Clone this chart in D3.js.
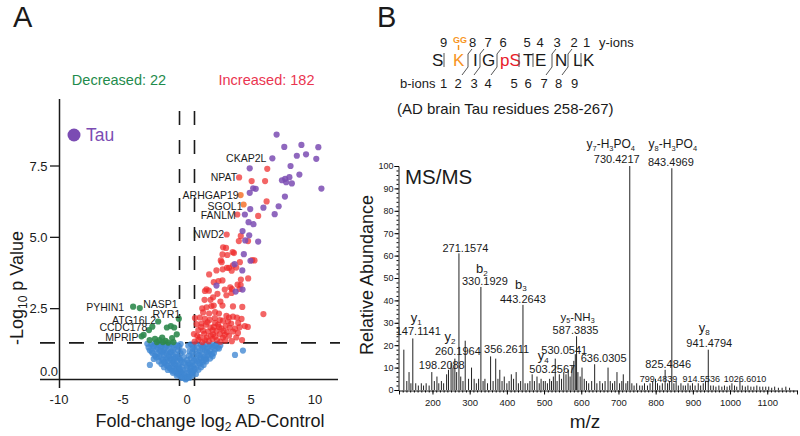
<!DOCTYPE html>
<html><head><meta charset="utf-8">
<script src="https://cdn.jsdelivr.net/npm/d3@7"></script>
<style>body{margin:0;background:#fff}svg{font-family:"Liberation Sans",Arial,sans-serif;display:block}</style>
</head><body><svg id="c" width="800" height="436"></svg>
<script>
// ================= DATA: Panel A (volcano) =================
const volcanoXTicks = [-10, -5, 0, 5, 10];
const volcanoYTicks = [2.5, 5.0, 7.5];
const decreasedCount = 22;
const increasedCount = 182;
const foldThreshold = 0.585;   // log2(1.5)
const pThreshold = 1.3;        // -log10(0.05)

const bluePoints = [
[-3.1,1.27],[-2.8,1.24],[-2.5,1.28],[-2.2,1.22],[-1.9,1.26],[-1.6,1.21],[-1.2,1.27],[-0.9,1.23],[-0.5,1.26],[0.3,1.25],[0.7,1.28],[1.1,1.22],[1.5,1.26],[1.9,1.24],[2.3,1.27],[2.6,1.21],
[-3.0,1.14],[-2.6,1.17],[-2.3,1.12],[-2.0,1.16],[-1.7,1.13],[-1.4,1.18],[-1.0,1.11],[-0.6,1.15],[0.5,1.17],[0.9,1.12],[1.3,1.16],[1.6,1.1],[2.0,1.15],[2.4,1.13],
[-2.9,1.04],[-2.4,1.07],[-2.1,1.02],[-1.8,1.06],[-1.5,1.01],[-1.1,1.05],[-0.7,1.03],[0.6,1.06],[1.0,1.01],[1.4,1.05],[1.8,1.02],[2.2,1.07],[4.37,1.03],
[-2.7,0.95],[-2.3,0.92],[-1.9,0.97],[-1.6,0.93],[-1.3,0.96],[-0.9,0.91],[-0.5,0.94],[0.4,0.96],[0.8,0.92],[1.2,0.97],[1.7,0.93],[2.1,0.95],
[-2.5,0.85],[-2.2,0.82],[-1.8,0.87],[-1.4,0.83],[-1.1,0.86],[-0.7,0.81],[0.5,0.84],[0.9,0.87],[1.3,0.82],[1.6,0.86],[2.0,0.83],[3.75,0.88],
[-2.6,0.74],[-2.0,0.77],[-1.6,0.72],[-1.3,0.76],[-1.0,0.73],[-0.6,0.75],[0.3,0.77],[0.7,0.72],[1.1,0.76],[1.5,0.73],[1.8,0.75],
[-2.2,0.65],[-1.8,0.62],[-1.5,0.66],[-1.1,0.63],[-0.8,0.67],[-0.4,0.64],[0.4,0.62],[0.8,0.66],[1.2,0.63],[1.5,0.65],
[-2.9,0.53],[-2.0,0.56],[-1.6,0.52],[-1.2,0.57],[-0.9,0.54],[-0.6,0.51],[0.2,0.55],[0.6,0.52],[1.0,0.56],[1.3,0.53],
[-1.8,0.45],[-1.4,0.43],[-1.1,0.47],[-0.8,0.42],[-0.4,0.46],[0.3,0.44],[0.7,0.41],[1.1,0.45],
[-1.5,0.35],[-1.2,0.33],[-0.9,0.37],[-0.6,0.32],[-0.3,0.36],[0.2,0.34],[0.5,0.31],[0.9,0.36],
[-1.1,0.25],[-0.8,0.23],[-0.5,0.27],[-0.2,0.22],[0.1,0.26],[0.4,0.24],[0.7,0.21],
[-0.8,0.15],[-0.5,0.13],[-0.2,0.16],[0.1,0.12],[0.4,0.15],
[-0.4,0.07],[-0.1,0.05],[0.2,0.08],[-0.1,0.02],
[-2.65,1.2],[-2.05,1.19],[-1.35,1.24],[-0.75,1.2],[0.1,1.2],[0.45,1.1],[1.2,1.19],[1.75,1.2],[2.15,1.2],[2.5,1.1],
[-2.75,1.0],[-2.0,0.99],[-1.25,0.99],[-0.3,1.0],[0.2,1.0],[1.55,0.99],[1.95,0.9],[-2.4,0.8],[-1.55,0.79],[-0.9,0.8],
[-0.25,0.8],[0.15,0.85],[1.05,0.79],[1.4,0.78],[-1.9,0.7],[-1.2,0.69],[-0.5,0.7],[0.0,0.7],[0.55,0.69],[1.35,0.7],
[-1.75,0.6],[-1.0,0.59],[-0.2,0.6],[0.1,0.6],[0.95,0.6],[-1.5,0.5],[-0.7,0.48],[0.0,0.5],[0.45,0.49],[-1.3,0.4],
[-0.6,0.39],[0.0,0.4],[0.55,0.38],[-1.0,0.3],[-0.4,0.28],[0.35,0.29],[-0.65,0.19],[0.25,0.19],[-0.3,0.1],[0.05,0.09]
];

const greenPoints = [
[-4.21,2.57],[-3.69,2.52],[-2.25,2.05],[-0.64,2.15],[-2.71,1.87],[-2.97,1.75],[-1.57,1.84],[-1.26,1.89],[-1.0,1.84],[-3.39,1.58],[-3.55,1.53],
[-2.92,1.4],[-2.5,1.44],[-2.15,1.4],[-1.94,1.49],[-1.68,1.37],[-1.47,1.31],[-1.16,1.47],[-1.06,1.33],[-2.35,1.33],[-1.88,1.33],[-0.8,1.6]
];

const redPoints = [
[6.27,7.4],[4.07,7.1],[5.05,6.97],[6.1,6.97],[6.22,6.26],[3.93,5.8],[5.56,5.75],[3.1,5.1],[4.2,5.05],[4.77,4.87],[4.05,4.87],
[2.82,4.65],[3.05,4.63],[3.57,4.48],[3.67,4.45],[3.15,4.38],[2.77,4.4],[4.13,4.13],[5.27,4.19],[5.09,4.2],[2.71,4.13],[2.64,4.19],
[3.59,4.02],[3.12,3.93],[3.28,3.93],[3.85,3.94],[2.79,3.88],[2.3,3.84],[3.49,3.83],[1.73,3.7],[4.21,3.52],[4.78,3.56],[2.77,3.49],
[2.46,3.47],[2.09,3.43],[3.95,3.34],[4.19,3.33],[1.52,3.18],[1.71,3.13],[1.4,3.12],[2.95,3.17],[3.38,3.25],[3.51,3.19],[4.11,3.19],
[2.38,3.02],[3.08,2.97],[3.48,3.05],[1.37,2.81],[1.84,2.81],[2.04,2.9],[2.61,2.75],[2.77,2.61],[1.19,2.51],[1.53,2.55],[1.91,2.59],
[2.09,2.61],[3.59,2.58],[4.32,2.56],[5.97,2.31],[1.26,2.37],[1.73,2.33],[2.19,2.38],[2.5,2.33],[3.08,2.25],[3.28,2.19],[3.59,2.22],
[3.9,2.19],[4.26,2.14],[4.52,1.89],[0.62,2.17],[1.0,2.19],[1.4,2.14],[1.78,2.11],[2.17,2.17],[2.56,2.1],[2.81,2.08],
[0.75,1.96],[1.14,1.98],[1.47,1.94],[1.84,1.84],[2.09,1.86],[2.43,1.94],[2.69,1.8],[3.02,1.9],[3.33,1.84],[3.59,1.7],[3.98,1.65],
[3.12,1.68],[2.56,1.61],[2.04,1.6],[1.65,1.7],[1.26,1.73],[0.88,1.75],[0.54,1.61],[1.0,1.5],[1.53,1.49],[1.99,1.44],[2.35,1.4],
[2.81,1.49],[3.28,1.55],[3.85,1.49],[4.11,1.85],[4.75,1.86],[0.6,1.35],[0.9,1.42],[1.2,1.33],[1.7,1.36],[2.2,1.52],[2.6,1.34],
[3.0,1.38],[3.5,1.36],[4.3,1.4],[1.35,1.62],[1.85,1.55],[2.3,1.72],[2.85,1.72],[3.45,1.98],[2.2,2.0],[1.6,2.02],[0.8,1.55],
[1.1,1.85],[2.0,1.75],[2.5,1.85],[3.2,2.05],[2.95,1.58],[1.4,1.4],[3.75,1.8],[4.0,2.0]
];

const purplePoints = [
[7.0,8.6],[7.6,8.17],[8.94,8.24],[10.26,8.16],[8.58,7.86],[9.3,7.91],[10.1,7.75],[6.67,7.77],[8.09,7.5],[4.9,7.42],
[8.78,7.2],[8.0,7.11],[7.42,7.0],[7.67,7.05],[7.75,6.93],[8.19,6.89],[10.5,6.71],[5.17,6.72],[5.37,6.7],[4.9,6.56],
[7.65,6.43],[7.16,6.09],[5.97,6.04],[4.94,5.99],[6.85,5.81],[4.52,5.8],[4.81,5.53],[5.19,5.46],[4.34,5.22],[4.86,5.07],
[4.55,4.89],[5.56,4.85],[4.44,4.41],[4.96,4.18],[3.72,4.06],[4.32,3.84],[2.3,3.31],[3.8,3.1],[4.34,3.17]
];

const orangePoints = [[4.19,6.48],[4.42,6.15]];

const geneNames  = ["CKAP2L","NPAT","ARHGAP19","SGOL1","FANLM","NWD2","PYHIN1","NASP1","RYR1","ATG16L2","CCDC178","MPRIP"];
const geneFC     = [6.67, 4.07, 4.19, 4.42, 3.93, 3.1, -4.21, -3.69, -0.64, -2.25, -2.71, -3.55];
const genePval   = [7.77, 7.1, 6.48, 6.15, 5.8, 5.1, 2.57, 2.52, 2.15, 2.05, 1.87, 1.53];

// ================= DATA: Panel B (MS/MS spectrum) =================
const msXTicks = [200,300,400,500,600,700,800,900,1000,1100];
const msYTicks = [0,10,20,30,40,50,60,70,80,90,100];
const peakMz = [
123,131,137,142,147.11,155,162,170,176,183,191,198.21,205,212,217,224,230,238,243,250,255,260.2,265,271.16,276,282,288,297,305,312,318,324,
330.19,336,341,348,356.26,363,370,376,381,387,393,400,406,412,418,425,431,437,443.26,449,456,462,468,474,481,487,492,498,503.26,509,515,
520,525,530.05,535,541,547,553,559,565,570,575,580,584,587.38,591,597,602,608,614,620,628,636.03,642,650,657,664,672,678,684,690,696,
703,709,713,720,725,730.42,736,742,749,757,764,770,778,785,792,799.48,805,811,818,825.48,832,837,843.5,849,855,861,868,874,880,887,
893,899,906,914.55,921,928,934,941.48,948,955,962,970,978,985,992,999,1005,1012,1018,1026.6,1033,1041,1048,1056,1064,1072,1080,1088,
1096,1104,1112,1120,1130,1140,1150,1160];
const peakIntensity = [
18,4,8,3,23,3,2,3,2,3,2,8,4,6,3,4,3,7,9,12,10,14,8,61,6,4,22,5,10,5,3,5,
46,4,5,3,15,4,14,5,9,4,6,3,4,7,5,8,3,4,38,3,3,4,7,4,6,3,5,4,4,3,5,
4,6,14,4,7,5,8,7,9,6,11,13,16,24,8,6,10,5,4,3,4,11.5,3,4,3,4,10,4,3,4,8,
3,4,7,3,4,100,3,2,3,2,2,3,2,3,4,5,3,2,3,9,3,4,99,3,4,2,3,2,2,3,
2,3,2,3,2,3,4,18,2,2,1.5,2,1.5,2,1.5,2,3,2,1.5,4,2,1.5,2,1.5,1.5,2,1.5,1.5,
1.5,1.5,1,1.5,1,1,1.5,1];

const msLabelText = ["730.4217","843.4969","271.1574","330.1929","443.2643","147.1141","260.1964","198.2088","356.2611",
  "587.3835","530.0541","503.2567","636.0305","825.4846","799.4839","914.5536","1026.6010","941.4794"];
const msIonNames = [
  {ion:[["y",0],["7",1],["-H",0],["3",1],["PO",0],["4",1]], of:"730.4217"},
  {ion:[["y",0],["8",1],["-H",0],["3",1],["PO",0],["4",1]], of:"843.4969"},
  {ion:[["b",0],["2",1]], of:"330.1929"},
  {ion:[["b",0],["3",1]], of:"443.2643"},
  {ion:[["y",0],["1",1]], of:"147.1141"},
  {ion:[["y",0],["2",1]], of:"260.1964"},
  {ion:[["y",0],["5",1],["-NH",0],["3",1]], of:"587.3835"},
  {ion:[["y",0],["4",1]], of:"503.2567"},
  {ion:[["y",0],["8",1]], of:"941.4794"}
];

// Peptide diagram content
const peptideResidues = ["S","K","I","G","pS","T","E","N","L","K"];
const yIonNumbers = ["9","8","7","6","5","4","3","2","1"];
const bIonNumbers = ["1","2","3","4","5","6","7","8","9"];

// ================= LAYOUT (pixel placement only) =================
const svg = d3.select("#c");
const INK = "#1a1a1a";

// ---------- Panel A ----------
const xA = d3.scaleLinear().domain([-10, 10]).range([59, 315]);
const yA = d3.scaleLinear().domain([0, 7.5]).range([380, 166]);
const gA = svg.append("g");

svg.append("text").attr("x", 13).attr("y", 27).attr("font-size", 29).attr("fill", INK).text("A");
svg.append("text").attr("x", 377).attr("y", 27).attr("font-size", 29).attr("fill", INK).text("B");

gA.append("line").attr("x1", 59.5).attr("x2", 59.5).attr("y1", 99).attr("y2", 388).attr("stroke", INK).attr("stroke-width", 1.5);
gA.append("line").attr("x1", 40).attr("x2", 338).attr("y1", 379.5).attr("y2", 379.5).attr("stroke", INK).attr("stroke-width", 1.5);

volcanoYTicks.forEach(v => {
  gA.append("line").attr("x1", 50).attr("x2", 59.5).attr("y1", yA(v)).attr("y2", yA(v)).attr("stroke", INK).attr("stroke-width", 1.3);
  gA.append("text").attr("x", 47.5).attr("y", yA(v)).attr("dy", "0.35em").attr("text-anchor", "end")
    .attr("font-size", 13).attr("fill", INK).text(d3.format(".1f")(v));
});
gA.append("text").attr("x", 58).attr("y", yA(0) - 9).attr("dy", "0.35em").attr("text-anchor", "end")
  .attr("font-size", 13).attr("fill", INK).text(d3.format(".1f")(0));

volcanoXTicks.forEach(v => {
  gA.append("text").attr("x", xA(v)).attr("y", 404).attr("text-anchor", "middle")
    .attr("font-size", 13).attr("fill", INK).text(String(v));
});

const xt = gA.append("text").attr("x", 210).attr("y", 427).attr("text-anchor", "middle").attr("font-size", 18).attr("fill", INK);
xt.append("tspan").text("Fold-change log");
xt.append("tspan").attr("font-size", 12).attr("dy", 4).text("2");
xt.append("tspan").attr("dy", -4).text(" AD-Control");

const yt = gA.append("text").attr("transform", "translate(23,288) rotate(-90)").attr("text-anchor", "middle").attr("font-size", 18).attr("fill", INK);
yt.append("tspan").text("-Log");
yt.append("tspan").attr("font-size", 12).attr("dy", 4).text("10");
yt.append("tspan").attr("dy", -4).text(" p Value");

[-foldThreshold, foldThreshold].forEach(v => {
  gA.append("line").attr("x1", xA(v)).attr("x2", xA(v)).attr("y1", 111).attr("y2", 394)
    .attr("stroke", INK).attr("stroke-width", 1.6).attr("stroke-dasharray", "14,15");
});
gA.append("line").attr("x1", 40).attr("x2", 340).attr("y1", yA(pThreshold)).attr("y2", yA(pThreshold))
  .attr("stroke", INK).attr("stroke-width", 1.6).attr("stroke-dasharray", "15,14");

function dots(data, fill, op) {
  gA.append("g").selectAll("circle").data(data).join("circle")
    .attr("cx", d => xA(d[0])).attr("cy", d => yA(d[1])).attr("r", 3.1)
    .attr("fill", fill).attr("fill-opacity", op);
}
dots(bluePoints, "#3f86d2", 0.78);
dots(greenPoints, "#2f8a4e", 0.9);
dots(redPoints, "#ee2a2a", 0.72);
dots(purplePoints, "#7b4cb3", 0.85);
dots(orangePoints, "#f57b3a", 0.9);

const geneLabelLayout = [["end",-6,3.5],["end",-2,4],["end",-2,4],["end",-1,5],["end",-1.5,4],["end",-2.5,4],
  ["end",-9,4.5],["start",3.5,-0.5],["end",1.5,-1],["end",-2,2.5],["end",-5,4.5],["end",-3,4.5]];
geneNames.forEach((n, i) => {
  const L = geneLabelLayout[i];
  gA.append("text").attr("x", xA(geneFC[i]) + L[1]).attr("y", yA(genePval[i]) + L[2])
    .attr("text-anchor", L[0]).attr("font-size", 10.5).attr("fill", INK).text(n);
});

gA.append("text").attr("x", 119).attr("y", 85).attr("text-anchor", "middle").attr("font-size", 14.5)
  .attr("fill", "#1f8b4c").text("Decreased: " + decreasedCount);
gA.append("text").attr("x", 266.5).attr("y", 85).attr("text-anchor", "middle").attr("font-size", 14.5)
  .attr("fill", "#ea3550").text("Increased: " + increasedCount);

gA.append("circle").attr("cx", 74).attr("cy", 135).attr("r", 6.5).attr("fill", "#7b4cb3");
gA.append("text").attr("x", 86).attr("y", 141).attr("font-size", 17.5).attr("fill", "#7b4cb3").text("Tau");

// ---------- Panel B: peptide diagram ----------
const gP = svg.append("g");
const residueX = [432, 453, 473, 482, 500, 523, 535, 555, 573, 583];
const residueColor = [INK, "#f7941d", INK, INK, "#e8202a", INK, INK, INK, INK, INK];
peptideResidues.forEach((r, i) => {
  gP.append("text").attr("x", residueX[i]).attr("y", 66).attr("font-size", 17).attr("fill", residueColor[i]).text(r);
});
const yNumX = [443.5, 472.5, 488, 503, 527, 540, 557, 574, 586.5];
yIonNumbers.forEach((t, i) => gP.append("text").attr("x", yNumX[i]).attr("y", 47).attr("text-anchor", "middle").attr("font-size", 13).attr("fill", INK).text(t));
const bNumX = [443.5, 458, 474, 488, 514, 528, 544, 558.5, 574.5];
bIonNumbers.forEach((t, i) => gP.append("text").attr("x", bNumX[i]).attr("y", 88).attr("text-anchor", "middle").attr("font-size", 13).attr("fill", INK).text(t));
gP.append("text").attr("x", 599).attr("y", 47).attr("font-size", 13).attr("fill", INK).text("y-ions");
gP.append("text").attr("x", 400).attr("y", 88).attr("font-size", 13).attr("fill", INK).text("b-ions");
gP.append("text").attr("x", 460).attr("y", 43).attr("text-anchor", "middle").attr("font-size", 9).attr("font-weight", "bold").attr("fill", "#f7941d").text("GG");
gP.append("line").attr("x1", 458.5).attr("x2", 458.5).attr("y1", 45).attr("y2", 50).attr("stroke", "#f7941d").attr("stroke-width", 1.5);
const cutX = [444, 468, 480, 497, 519, 533, 552, 568, 581];
const cutHook = [false, true, true, true, false, false, true, true, false];
cutX.forEach((x, i) => {
  const p = cutHook[i] ? `M${x-6},75 L${x},67 L${x},54 L${x+4},49` : `M${x},53 L${x},67`;
  gP.append("path").attr("d", p).attr("fill", "none").attr("stroke", "#555").attr("stroke-width", 1);
});
gP.append("text").attr("x", 397).attr("y", 114).attr("font-size", 15).attr("fill", INK).text("(AD brain Tau residues 258-267)");

// ---------- Panel B: spectrum ----------
const xB = d3.scaleLinear().domain([110, 1180]).range([399, 797]);
const yB = d3.scaleLinear().domain([0, 100]).range([390, 166]);
const gB = svg.append("g");

gB.append("text").attr("x", 405).attr("y", 184).attr("font-size", 20.5).attr("fill", INK).text("MS/MS");

gB.append("g").selectAll("line").data(peakMz.map((m, i) => [m, peakIntensity[i]])).join("line")
  .attr("x1", d => xB(d[0])).attr("x2", d => xB(d[0]))
  .attr("y1", yB(0)).attr("y2", d => yB(d[1]))
  .attr("stroke", "#222").attr("stroke-width", 1);

const xAxisB = d3.axisBottom(xB).tickValues(msXTicks).tickSize(4).tickFormat(d3.format("d"));
const gx = gB.append("g").attr("transform", "translate(0,390.5)").call(xAxisB);
gx.select(".domain").attr("stroke", INK);
gx.selectAll("text").attr("font-size", 9.5).attr("fill", INK).attr("font-family", "Liberation Sans, Arial, sans-serif").attr("dy", "0.9em");
gB.append("g").attr("transform", "translate(0,390.5)")
  .call(d3.axisBottom(xB).ticks(100).tickSize(2).tickFormat(""))
  .select(".domain").remove();

const yAxisB = d3.axisLeft(yB).tickValues(msYTicks).tickSize(4).tickFormat(d3.format("d"));
const gy = gB.append("g").attr("transform", "translate(398.5,0)").call(yAxisB);
gy.select(".domain").attr("stroke", INK);
gy.selectAll("text").attr("font-size", 9).attr("fill", INK).attr("font-family", "Liberation Sans, Arial, sans-serif").attr("x", -5);
gB.append("g").attr("transform", "translate(398.5,0)")
  .call(d3.axisLeft(yB).ticks(50).tickSize(2).tickFormat(""))
  .select(".domain").remove();

gB.append("text").attr("transform", "translate(373,275) rotate(-90)").attr("text-anchor", "middle")
  .attr("font-size", 18).attr("fill", INK).text("Relative Abundance");
gB.append("text").attr("x", 585).attr("y", 428).attr("text-anchor", "middle").attr("font-size", 19).attr("fill", INK).text("m/z");

// peak labels: [dx from peak, dy from peak top, fontSize]
const msLabelLayout = [[-13,-3,11],[-1,-2,11],[6.5,-1.5,11],[4,-1.5,11],[0,-2,11],[5.5,-3,11],[3,-3.5,11],[10,-3,11],[16,-3,11],
  [-1,-2.5,11],[9,-5,11],[7,-8,11],[9,-2,11],[3,-2,11],[3,-0.5,9],[3,-1,9],[5,-1.5,9],[1,-2.5,11]];
function peakTop(label) {
  const i = peakMz.findIndex(m => Math.abs(m - parseFloat(label)) < 0.6);
  return [xB(peakMz[i]), yB(peakIntensity[i])];
}
const labelPos = {};
msLabelText.forEach((t, i) => {
  const [px, py] = peakTop(t);
  const L = msLabelLayout[i];
  let yy = py + L[1];
  if (t === "799.4839" || t === "914.5536" || t === "1026.6010") yy = 381.5;
  labelPos[t] = [px + L[0], yy];
  gB.append("text").attr("x", px + L[0]).attr("y", yy).attr("text-anchor", "middle")
    .attr("font-size", L[2]).attr("fill", INK).text(t);
});
// ion names: offset relative to its number label
const ionLayout = [[-6,-15,12],[2,-18,12],[-3,-12,13],[-2,-14,13],[-2,-13,13],[-8,-14,13],[2,-13,11.5],[-9,-13,13],[-5,-15,13]];
msIonNames.forEach((o, i) => {
  const [lx, ly] = labelPos[o.of];
  const L = ionLayout[i];
  const t = gB.append("text").attr("x", lx + L[0]).attr("y", ly + L[1]).attr("text-anchor", "middle")
    .attr("font-size", L[2]).attr("fill", INK);
  let sub = 0;
  o.ion.forEach(([s, isSub]) => {
    const ts = t.append("tspan").text(s);
    if (isSub && !sub) { ts.attr("dy", 2.5).attr("font-size", L[2] * 0.62); sub = 1; }
    else if (isSub) { ts.attr("font-size", L[2] * 0.62); }
    else if (sub) { ts.attr("dy", -2.5); sub = 0; }
  });
});
</script></body></html>
